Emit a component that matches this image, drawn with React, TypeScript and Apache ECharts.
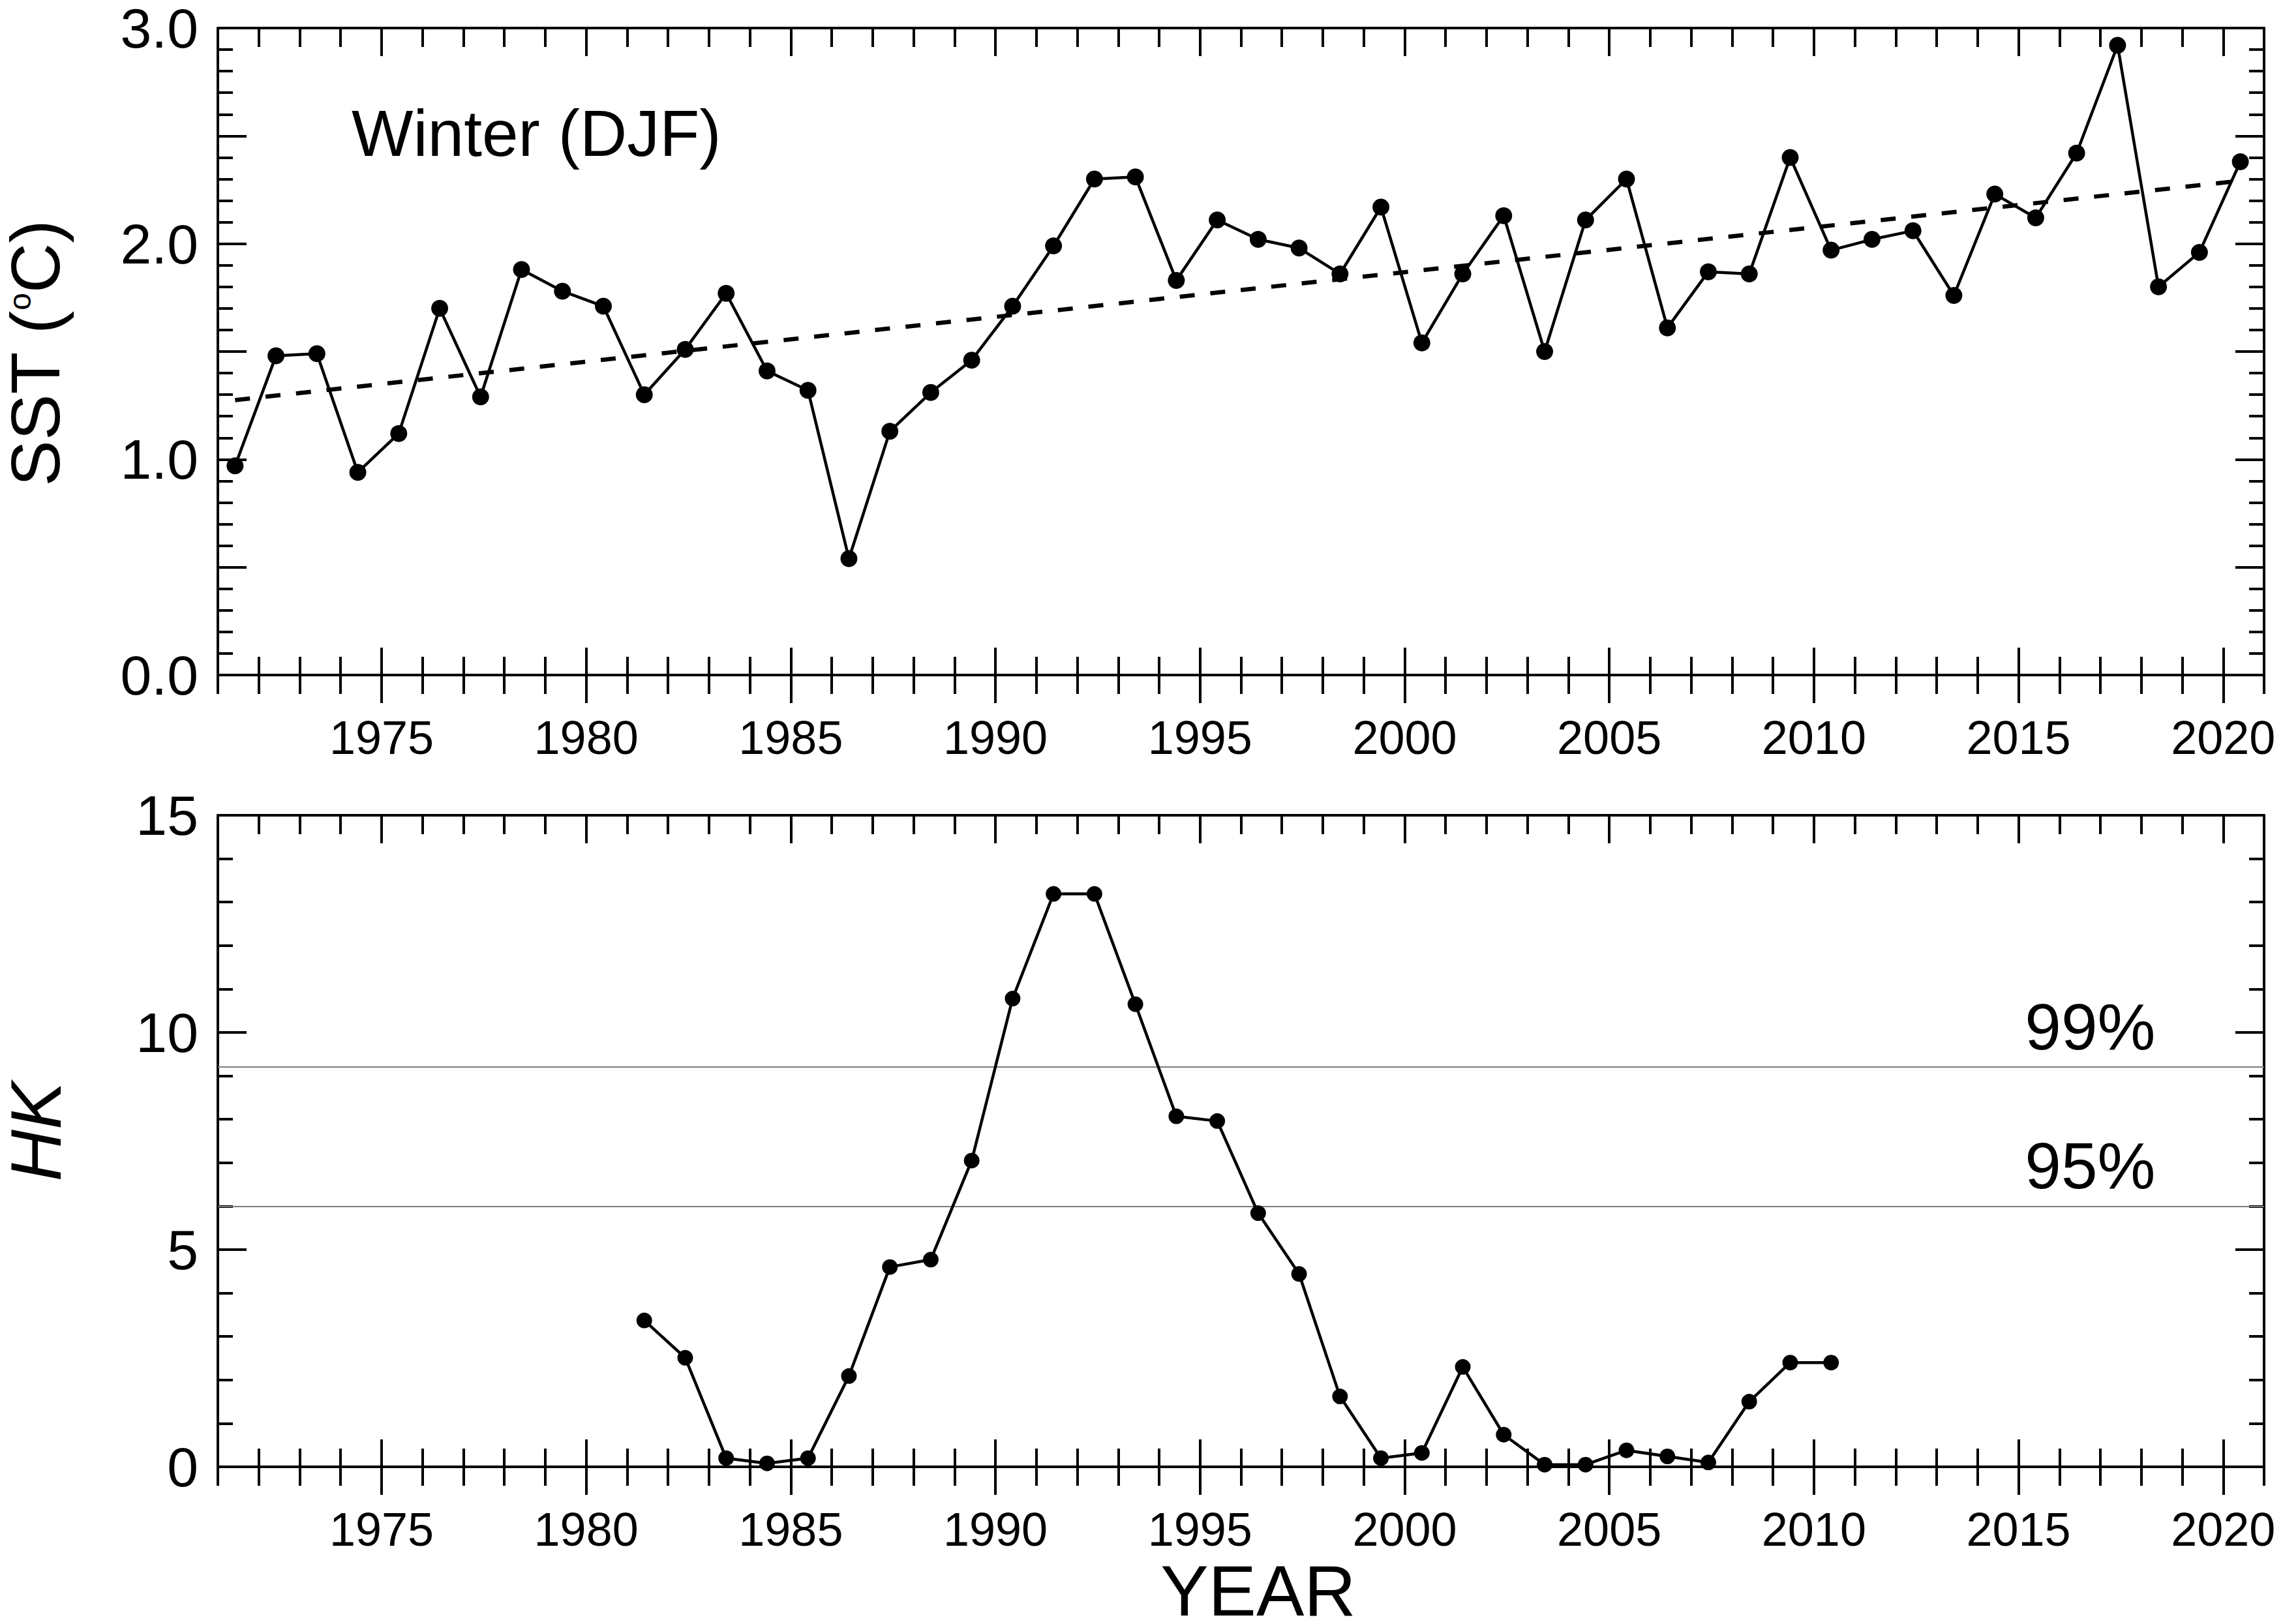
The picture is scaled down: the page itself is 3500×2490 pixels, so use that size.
import React, { useEffect, useRef } from 'react';
import * as echarts from 'echarts';

const FONT = '"Liberation Sans", Arial, Helvetica, sans-serif';

// x axis range and labelled years
const X_MIN = 1971;
const X_MAX = 2021;
const X_TICK_LABELS = [1975, 1980, 1985, 1990, 1995, 2000, 2005, 2010, 2015, 2020];
// values are plotted inside their year
const POINT_OFFSET = 0.42;

// Upper panel: winter (DJF) SST
const SST_YEARS = [
  1971, 1972, 1973, 1974, 1975, 1976, 1977, 1978, 1979, 1980,
  1981, 1982, 1983, 1984, 1985, 1986, 1987, 1988, 1989, 1990,
  1991, 1992, 1993, 1994, 1995, 1996, 1997, 1998, 1999, 2000,
  2001, 2002, 2003, 2004, 2005, 2006, 2007, 2008, 2009, 2010,
  2011, 2012, 2013, 2014, 2015, 2016, 2017, 2018, 2019, 2020,
];
const SST_VALUES = [
  0.97, 1.48, 1.49, 0.94, 1.12, 1.70, 1.29, 1.88, 1.78, 1.71,
  1.30, 1.51, 1.77, 1.41, 1.32, 0.54, 1.13, 1.31, 1.46, 1.71,
  1.99, 2.30, 2.31, 1.83, 2.11, 2.02, 1.98, 1.86, 2.17, 1.54,
  1.86, 2.13, 1.50, 2.11, 2.30, 1.61, 1.87, 1.86, 2.40, 1.97,
  2.02, 2.06, 1.76, 2.23, 2.12, 2.42, 2.92, 1.80, 1.96, 2.38,
];
const TREND_YEARS = [1971, 2020];
const TREND_VALUES = [1.275, 2.292];
const SST_Y_LABELS = [0, 1, 2, 3];

// Lower panel: HK statistic
const HK_YEARS = [
  1981, 1982, 1983, 1984, 1985, 1986, 1987, 1988, 1989, 1990,
  1991, 1992, 1993, 1994, 1995, 1996, 1997, 1998, 1999, 2000,
  2001, 2002, 2003, 2004, 2005, 2006, 2007, 2008, 2009, 2010,
];
const HK_VALUES = [
  3.37, 2.51, 0.20, 0.08, 0.20, 2.09, 4.60, 4.77, 7.05, 10.78,
  13.19, 13.19, 10.65, 8.07, 7.96, 5.84, 4.44, 1.62, 0.20, 0.32,
  2.30, 0.74, 0.05, 0.05, 0.38, 0.24, 0.10, 1.50, 2.40, 2.40,
];
const HK_Y_LABELS = [0, 5, 10, 15];
const THRESHOLDS = [9.21, 6.0];
const THRESHOLD_LABELS = ['99%', '95%'];
const THRESHOLD_LABEL_YEAR = 2016.75;

const GRID_LEFT = 334;
const GRID_WIDTH = 3137;
const GRID_HEIGHT = 999;
const GRID_TOPS = [36, 1250];

const BLACK = '#000';
const AXIS_W = 4;

function xAxes(grid: number): any[] {
  const base = {
    type: 'value',
    gridIndex: grid,
    min: X_MIN,
    max: X_MAX,
    axisLine: { show: false, onZero: false },
    splitLine: { show: false },
    axisLabel: { show: false },
    axisTick: { show: false },
  };
  const tickStyle = { color: BLACK, width: AXIS_W };
  return [
    {
      ...base,
      position: 'bottom',
      axisLine: { show: true, onZero: false, lineStyle: { color: BLACK, width: AXIS_W } },
      axisLabel: {
        show: true,
        customValues: X_TICK_LABELS,
        formatter: (v: number) => String(v),
        margin: 60,
        fontSize: 72,
        lineHeight: 72,
        color: BLACK,
        fontFamily: FONT,
      },
    },
    {
      ...base,
      position: 'bottom',
      offset: 29,
      interval: 1,
      axisTick: { show: true, inside: true, length: 57, lineStyle: tickStyle },
    },
    {
      ...base,
      position: 'bottom',
      offset: 43,
      axisTick: { show: true, inside: true, length: 85, customValues: X_TICK_LABELS, lineStyle: tickStyle },
    },
    {
      ...base,
      position: 'top',
      interval: 1,
      axisLine: { show: true, onZero: false, lineStyle: { color: BLACK, width: AXIS_W } },
      axisTick: { show: true, inside: true, length: 29, lineStyle: tickStyle },
    },
    {
      ...base,
      position: 'top',
      axisTick: { show: true, inside: true, length: 43, customValues: X_TICK_LABELS, lineStyle: tickStyle },
    },
  ];
}

function yAxes(grid: number, max: number, minor: number, major: number, labels: number[], decimals: number): any[] {
  const base = {
    type: 'value',
    gridIndex: grid,
    min: 0,
    max,
    axisLine: { show: false, onZero: false },
    splitLine: { show: false },
    axisLabel: { show: false },
    axisTick: { show: false },
  };
  const tickStyle = { color: BLACK, width: AXIS_W };
  const res: any[] = [];
  for (const pos of ['left', 'right']) {
    res.push({
      ...base,
      position: pos,
      interval: major,
      axisLine: { show: true, onZero: false, lineStyle: { color: BLACK, width: AXIS_W } },
      axisTick: { show: true, inside: true, length: 44, lineStyle: tickStyle },
      axisLabel:
        pos === 'left'
          ? {
              show: true,
              customValues: labels,
              formatter: (v: number) => v.toFixed(decimals),
              margin: 30,
              fontSize: 86,
              color: BLACK,
              fontFamily: FONT,
            }
          : { show: false },
    });
    res.push({
      ...base,
      position: pos,
      interval: minor,
      axisTick: { show: true, inside: true, length: 23, lineStyle: tickStyle },
    });
  }
  return res;
}

const App: React.FC = () => {
  const ref = useRef<HTMLDivElement>(null);

  useEffect(() => {
    if (!ref.current) return;
    const chart = echarts.init(ref.current, undefined, { renderer: 'svg' });

    const sstData = SST_YEARS.map((y, i) => [y + POINT_OFFSET, SST_VALUES[i]]);
    const trendData = TREND_YEARS.map((y, i) => [y + POINT_OFFSET, TREND_VALUES[i]]);
    const hkData = HK_YEARS.map((y, i) => [y + POINT_OFFSET, HK_VALUES[i]]);
    const thrLabelData = THRESHOLDS.map((v, i) => [THRESHOLD_LABEL_YEAR, v, THRESHOLD_LABELS[i]]);

    const option: any = {
      animation: false,
      backgroundColor: '#fff',
      textStyle: { fontFamily: FONT },
      grid: GRID_TOPS.map((top) => ({
        left: GRID_LEFT,
        top,
        width: GRID_WIDTH,
        height: GRID_HEIGHT,
        containLabel: false,
      })),
      xAxis: [...xAxes(0), ...xAxes(1)],
      yAxis: [
        ...yAxes(0, 3, 0.1, 0.5, SST_Y_LABELS, 1),
        ...yAxes(1, 15, 1, 5, HK_Y_LABELS, 0),
      ],
      series: [
        {
          name: 'SST',
          type: 'line',
          xAxisIndex: 0,
          yAxisIndex: 0,
          data: sstData,
          symbol: 'circle',
          symbolSize: 26,
          itemStyle: { color: BLACK },
          lineStyle: { color: BLACK, width: 4.5 },
          z: 5,
        },
        {
          name: 'Trend',
          type: 'line',
          xAxisIndex: 0,
          yAxisIndex: 0,
          data: trendData,
          symbol: 'none',
          lineStyle: { color: BLACK, width: 6.5, type: [23, 24] },
          z: 4,
        },
        {
          name: 'HK',
          type: 'line',
          xAxisIndex: 5,
          yAxisIndex: 4,
          data: hkData,
          symbol: 'circle',
          symbolSize: 24,
          itemStyle: { color: BLACK },
          lineStyle: { color: BLACK, width: 4.5 },
          z: 5,
          markLine: {
            silent: true,
            symbol: 'none',
            label: { show: false },
            lineStyle: { color: '#7a7a7a', width: 2, type: 'solid' },
            data: THRESHOLDS.map((v) => ({ yAxis: v })),
          },
        },
        {
          name: 'Thresholds',
          type: 'scatter',
          xAxisIndex: 5,
          yAxisIndex: 4,
          data: thrLabelData,
          symbolSize: 0,
          silent: true,
          itemStyle: { color: BLACK, opacity: 1 },
          label: {
            show: true,
            position: 'top',
            distance: 12,
            formatter: (p: any) => p.data[2],
            fontSize: 100,
            color: BLACK,
            opacity: 1,
            fontFamily: FONT,
          },
        },
      ],
      graphic: [
        {
          type: 'text',
          x: 539,
          y: 204,
          style: {
            text: 'Winter (DJF)',
            fontSize: 100,
            fontFamily: FONT,
            fill: BLACK,
            align: 'left',
            verticalAlign: 'middle',
            textAlign: 'left',
            textVerticalAlign: 'middle',
          },
        },
        {
          type: 'text',
          x: 54,
          y: 542,
          rotation: Math.PI / 2,
          style: {
            text: 'SST ({s|o}C)',
            fontSize: 106,
            lineHeight: 96,
            fontFamily: FONT,
            fill: BLACK,
            align: 'center',
            verticalAlign: 'middle',
            textAlign: 'center',
            textVerticalAlign: 'middle',
            rich: {
              s: { fontSize: 48, lineHeight: 96, fontFamily: FONT, fill: BLACK, verticalAlign: 'top' },
            },
          },
        },
        {
          type: 'text',
          x: 54,
          y: 1735,
          rotation: Math.PI / 2,
          style: {
            text: 'HK',
            fontSize: 110,
            lineHeight: 96,
            fontStyle: 'italic',
            fontFamily: FONT,
            fill: BLACK,
            align: 'center',
            verticalAlign: 'middle',
            textAlign: 'center',
            textVerticalAlign: 'middle',
          },
        },
        {
          type: 'text',
          x: 1929,
          y: 2438,
          style: {
            text: 'YEAR',
            fontSize: 110,
            lineHeight: 84,
            fontFamily: FONT,
            fill: BLACK,
            align: 'center',
            verticalAlign: 'middle',
            textAlign: 'center',
            textVerticalAlign: 'middle',
          },
        },
      ],
    };

    chart.setOption(option);
    return () => {
      chart.dispose();
    };
  }, []);

  return (
    <div
      ref={ref}
      style={{ position: 'absolute', left: 0, top: 0, width: 3500, height: 2490, background: '#fff' }}
    />
  );
};

export default App;
